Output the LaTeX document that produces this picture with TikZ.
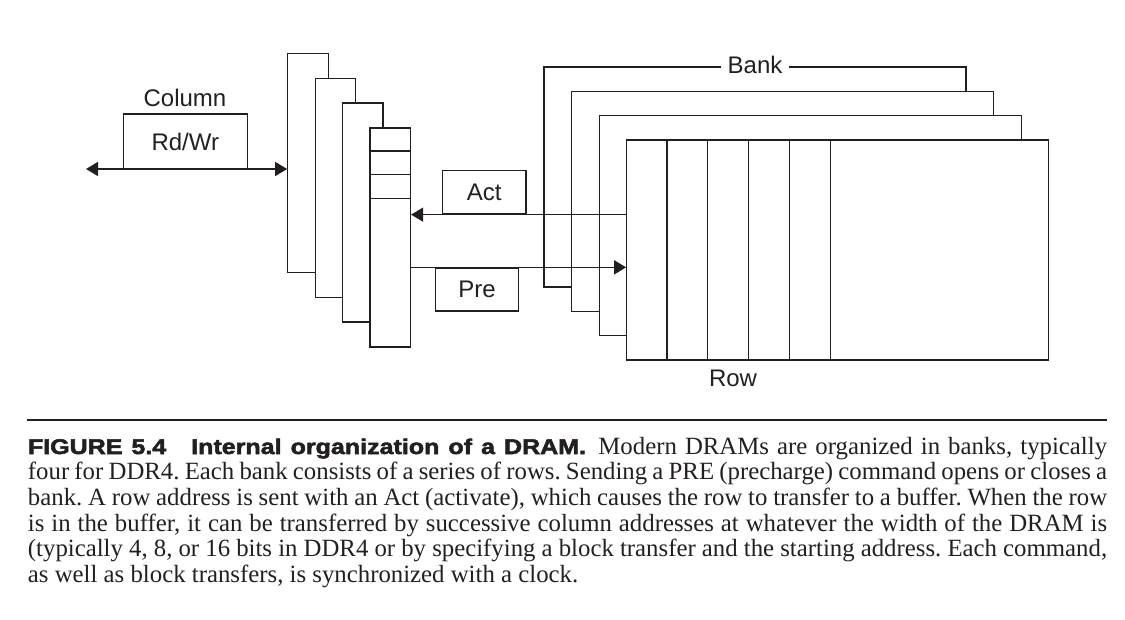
\documentclass[tikz,border=0pt]{standalone}
\usepackage{fontspec}
\setmainfont{Liberation Serif}
\setsansfont{Liberation Sans}
\newfontfamily\headfont[FakeBold=2.5,FakeStretch=1.18]{Liberation Sans Bold}
\usepackage{xcolor}
\usetikzlibrary{arrows.meta}
\definecolor{ink}{RGB}{35,31,32}

\begin{document}
\begin{tikzpicture}[x=0.5pt,y=-0.5pt,line width=0.65pt,color=ink,
    plate/.style={draw,fill=white,inner sep=0pt,minimum width=20.2pt,minimum height=109.5pt},
    bank/.style={draw,fill=white,inner sep=0pt,minimum width=211pt,minimum height=110pt},
    cmd/.style={draw,inner sep=0pt,font=\sffamily\fontsize{12}{14}\selectfont},
    lbl/.style={inner sep=0pt,font=\sffamily\fontsize{12}{14}\selectfont},
    tip/.style={-{Triangle[length=6pt,width=7pt]}}]
    \useasboundingbox (0,0) rectangle (1125,620);

    \foreach \i in {0,...,3}
      \node[plate] (buf\i) at ({308+27.4*\i},{163+24.8*\i}) {};
    \foreach \k in {1,2,3}
      \draw ([yshift={-11.9pt*\k}]buf3.north west) -- ([yshift={-11.9pt*\k}]buf3.north east);

    \foreach \i in {0,...,3}
      \node[bank] (bank\i) at ({755+27.6*\i},{177+24.3*\i}) {};
    \foreach \k in {1,...,5}
      \draw ([xshift={20.4pt*\k}]bank3.north west) -- ([xshift={20.4pt*\k}]bank3.south west);

    \node[lbl,fill=white,inner xsep=3.2pt] (banklbl) at (755,65) {Bank};
    \node[lbl] (rowlbl) at (733,378) {Row};
    \node[lbl] (collbl) at (185,97.5) {Column};
    \node[cmd,minimum width=62pt,minimum height=27.5pt] (rdwr) at (185.3,141.5) {Rd/Wr};
    \node[cmd,minimum width=41.7pt,minimum height=21.7pt] (act) at (484.3,192.3) {Act};
    \node[cmd,minimum width=41.3pt,minimum height=21.5pt] (pre) at (477,289.5) {Pre};

    \coordinate (bus) at (86,169);
    \draw[{Triangle[length=6pt,width=7pt]}-{Triangle[length=6pt,width=7pt]}] (bus) -- (bus -| buf0.west);
    \draw[tip] (act.south -| bank3.west) -- (act.south -| buf3.east);
    \draw[tip] (pre.north -| buf3.east) -- (pre.north -| bank3.west);

    \draw[line width=0.7pt] (27.3,420) -- (1106.5,420);
    \node[anchor=base west,inner sep=0pt,text width=539.6pt,align=justify,
      font=\fontsize{12.4}{12.85}\selectfont\frenchspacing] (caption) at (27.3,454)
      {\noindent{\headfont\fontsize{10.6}{12.85}\selectfont FIGURE 5.4\hspace{12.5pt}Internal organization of a DRAM.}\enspace
      Modern DRAMs are organized in banks, typically\linebreak
      four for DDR4. Each bank consists of a series of rows. Sending a PRE (precharge) command opens or closes a\linebreak
      bank. A row address is sent with an Act (activate), which causes the row to transfer to a buffer. When the row\linebreak
      is in the buffer, it can be transferred by successive column addresses at whatever the width of the DRAM is\linebreak
      (typically 4, 8, or 16 bits in DDR4 or by specifying a block transfer and the starting address. Each command,\linebreak
      as well as block transfers, is synchronized with a clock.};
\end{tikzpicture}
\end{document}
